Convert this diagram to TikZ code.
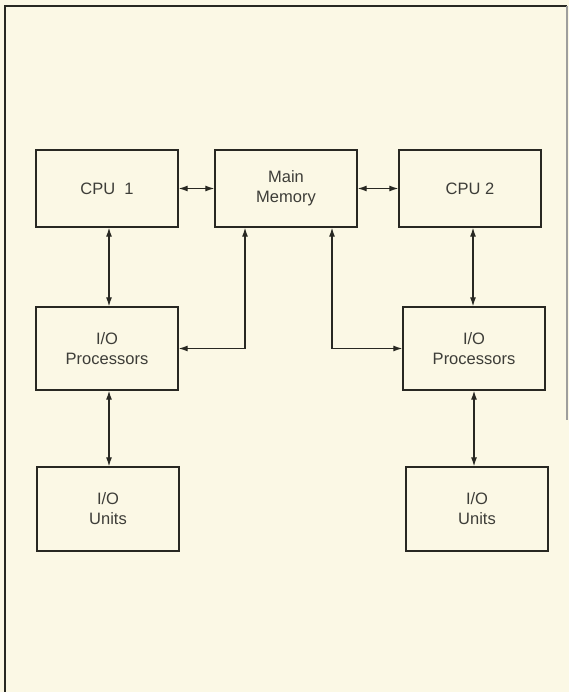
\documentclass[tikz,border=0pt]{standalone}
\usepackage{fontspec}
\setmainfont{Liberation Sans}
\usetikzlibrary{arrows.meta}
\definecolor{paper}{RGB}{251,248,229}
\definecolor{ink}{RGB}{40,40,34}
\tikzset{
  blk/.style={draw=ink, line width=1.3pt, minimum width=142pt, inner sep=0pt,
    align=center, text=ink!90, font=\fontsize{16.5}{20}\selectfont},
  tip/.style={Latex[length=9pt,width=6pt]},
  arr/.style={draw=ink, line width=1.2pt, {Latex[length=9pt,width=6pt]}-{Latex[length=9pt,width=6pt]}},
  frame/.style={draw=ink, line width=1.6pt}
}
\begin{document}
\begin{tikzpicture}[x=1pt,y=-1pt]
\fill[paper] (0,0) rectangle (569,692);
\useasboundingbox (0,0) rectangle (569,692);
% frame
\draw[frame] (5,692) -- (5,6) -- (567,6);
\draw[draw=ink!45, line width=1.2pt] (567,6) -- (567,420);
% boxes
\node[blk, minimum height=77pt] (cpu1) at (107,188.5) {CPU\ \ 1};
\node[blk, minimum height=77pt] (mm) at (286,188.5) {Main\\Memory};
\node[blk, minimum height=77pt] (cpu2) at (470,188.5) {CPU 2};
\node[blk, minimum height=83pt] (iop1) at (107,348.5) {I/O\\Processors};
\node[blk, minimum height=83pt] (iop2) at (474,348.5) {I/O\\Processors};
\node[blk, minimum height=84pt] (iou1) at (108,509) {I/O\\Units};
\node[blk, minimum height=84pt] (iou2) at (477,509) {I/O\\Units};
% connectors
\draw[arr] (cpu1.east) -- (mm.west);
\draw[arr] (mm.east) -- (cpu2.west);
\draw[arr] ([xshift=2pt]cpu1.south) -- ([xshift=2pt]iop1.north);
\draw[arr] ([xshift=3pt]cpu2.south) -- ([xshift=-1pt]iop2.north);
\draw[arr] ([xshift=-41pt]mm.south) |- (iop1.east);
\draw[arr] ([xshift=46pt]mm.south) |- (iop2.west);
\draw[arr] ([xshift=2pt]iop1.south) -- ([xshift=1pt]iou1.north);
\draw[arr] (iop2.south) -- ([xshift=-3pt]iou2.north);
\end{tikzpicture}
\end{document}
